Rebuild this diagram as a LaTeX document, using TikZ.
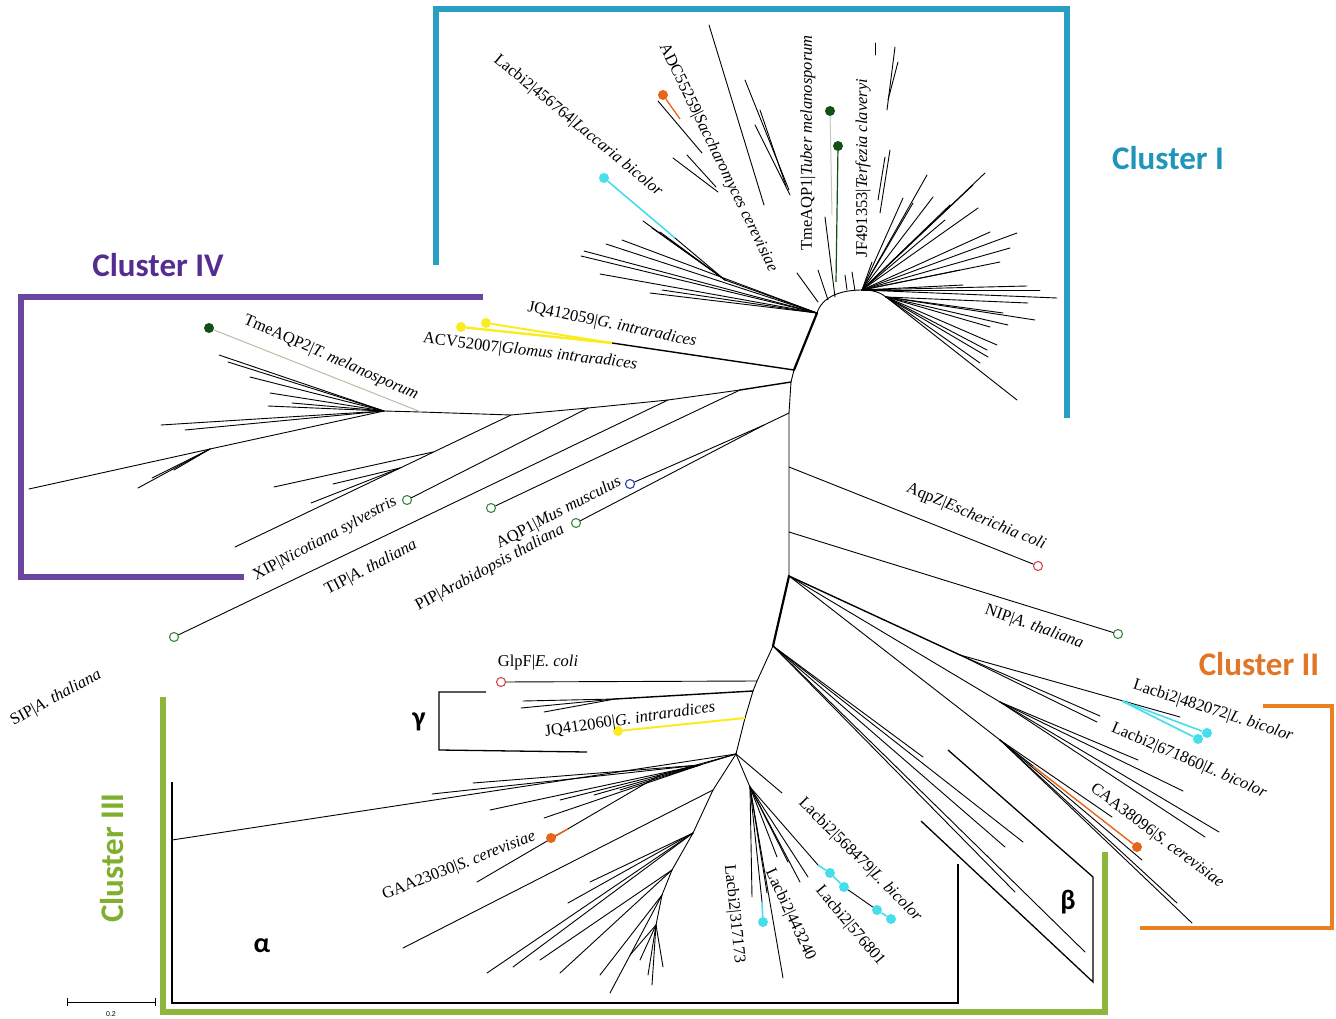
\documentclass[tikz,border=0pt]{standalone}
\usepackage{fontspec}
\setmainfont{Liberation Serif}
\newfontfamily\clfont{Carlito}
\newfontfamily\scfont{Liberation Sans}
\definecolor{tealb}{RGB}{41,160,195}
\definecolor{purpb}{RGB}{106,70,160}
\definecolor{orb}{RGB}{235,128,35}
\definecolor{grb}{RGB}{140,182,60}
\definecolor{tealtx}{RGB}{30,150,185}
\definecolor{purtx}{RGB}{85,45,145}
\definecolor{ortx}{RGB}{225,118,38}
\definecolor{grtx}{RGB}{128,175,48}
\definecolor{cyn}{RGB}{70,222,235}
\definecolor{yel}{RGB}{250,236,30}
\definecolor{dgr}{RGB}{18,80,22}
\definecolor{ordot}{RGB}{232,100,25}
\definecolor{redc}{RGB}{215,70,80}
\definecolor{grc}{RGB}{60,135,60}
\definecolor{bluc}{RGB}{40,60,185}
\definecolor{beige}{RGB}{195,185,165}
\definecolor{faint}{RGB}{190,205,185}
\begin{document}
\begin{tikzpicture}[x=1pt,y=-1pt,
  br/.style={line width=0.9pt, line cap=round},
  thk/.style={line width=2.2pt, line cap=round},
  med/.style={line width=1.4pt, line cap=round},
  bracket/.style={line width=5.5pt},
  lbl/.style={inner sep=0pt, font=\fontsize{16.5}{18}\selectfont},
  clus/.style={inner sep=0pt, font=\clfont\bfseries\fontsize{33}{36}\selectfont},
  greek/.style={inner sep=0pt, font=\clfont\bfseries\fontsize{28}{30}\selectfont},
  ocirc/.style={circle, draw, line width=1.1pt, minimum size=9pt, inner sep=0pt, fill=white},
  fdot/.style={circle, minimum size=10pt, inner sep=0pt},
]
\useasboundingbox[fill=white] (0,0) rectangle (1336,1019);

% ---------------- cluster brackets ----------------
\draw[bracket, tealb] (436,265) -- (436,9) -- (1067,9) -- (1067,418);
\draw[bracket, purpb] (483,297) -- (21,297) -- (21,577) -- (244,577);
\draw[line width=4.5pt, orb] (1263,706) -- (1332,706) -- (1332,928) -- (1140,928);
\draw[bracket, grb] (163,697) -- (163,1012) -- (1105,1012) -- (1105,852);

\node[clus, text=tealtx] (cI) at (1168,158) {Cluster I};
\node[clus, text=purtx] (cIV) at (158,265) {Cluster IV};
\node[clus, text=ortx] (cII) at (1259,664) {Cluster II};
\node[clus, text=grtx, rotate=90] (cIII) at (112,858) {Cluster III};

% ---------------- backbone ----------------
\coordinate (A) at (817,313);
\coordinate (B) at (794,370);
\coordinate (C) at (791,382);
\coordinate (P1) at (789,413);
\coordinate (Pz) at (789,467);
\coordinate (Pn) at (789,532);
\coordinate (D) at (789,576);
\coordinate (E) at (773,646);
\coordinate (F1) at (757,681);
\coordinate (F2) at (753,691);
\coordinate (Fy) at (745,718);
\coordinate (G) at (736,754);
\draw[thk] (A) -- (B);
\draw[br] (B) -- (C) -- (P1) -- (Pz) -- (Pn) -- (D);
\draw[thk] (D) -- (E);
\draw[br] (E) -- (F1) -- (F2) -- (Fy) -- (G);

% ---------------- Cluster I ----------------
\coordinate (R3) at (862,290);
\coordinate (R4) at (886,297);
\draw[br] (A) .. controls (822,297) and (840,290) .. (R3) .. controls (874,290) and (881,293) .. (R4);
\foreach \x/\y in {581/256,584/251,606/244,622/240,600/274,650/293,662/290}
  \draw[br] (A) -- (\x,\y);
\coordinate (LS) at (725,280);
\draw[br] (A) -- (LS);
\foreach \x/\y in {643/221,660/232,652/228}
  \draw[br] (LS) -- (\x,\y);
\coordinate (cy1s) at (675,238);
\draw[br] (LS) -- (cy1s);
\node[fdot, fill=cyn] (cy1) at (604,178) {};
\draw[cyn, line width=1.6pt] (cy1s) -- (cy1);
% Saccharomyces group
\node[fdot, fill=ordot] (sac) at (663,95) {};
\draw[ordot, line width=1.3pt] (sac) -- (680,119);
\draw[br] (658,101) -- (702,153);
\draw[br] (673,158) -- (718,192);
\draw[br] (687,155) -- (716,187);
% long lines upward
\draw[br] (709,25) -- (764,205);
\draw[br] (745,80) -- (789,190);
\draw[br] (755,125) -- (790,195);
\draw[br] (760,110) -- (786,186);
\draw[br] (797,273) -- (818,302);
\draw[br] (818,270) -- (828,300);
\draw[br] (825,217) -- (835,297);
\draw[br] (845,275) -- (847,290);
\draw[br] (852,272) -- (855,291);
% TmeAQP1 / JF491353
\node[fdot, fill=dgr] (tme1) at (830,111) {};
\node[fdot, fill=dgr] (jf) at (838,146) {};
\draw[faint, line width=1pt] (tme1) -- (832,215);
\draw[dgr, line width=1.2pt] (jf) -- (836,282);
\draw[br] (875,43) -- (875,55);
\draw[br] (895,47) -- (887,110);
\draw[br] (898,62) -- (888,100);
\draw[br] (890,150) -- (880,213);
\draw[br] (885,157) -- (878,200);
% right fan
\foreach \x/\y in {985/173,973/185,978/208,1017/233,990/232,1010/248,960/270,963/285,1027/286,1057/298,927/175,933/197,903/198,913/203,872/262,950/205,945/220,1000/262,1040/290}
  \draw[br] (R3) -- (\x,\y);
\foreach \x/\y in {1028/303,1003/313,1008/325,990/327,997/345,987/350,988/357,1017/400,980/363,1035/320}
  \draw[br] (R4) -- (\x,\y);

% ---------------- Glomus (JQ412059 / ACV52007) ----------------
\coordinate (J1) at (612,343);
\draw[med] (B) -- (J1);
\node[fdot, fill=yel] (gl1) at (461,327) {};
\node[fdot, fill=yel] (gl2) at (486,323) {};
\draw[yel, line width=2.4pt] (J1) -- (gl1);
\draw[yel, line width=2pt] (J1) -- (gl2);

% ---------------- Cluster IV ----------------
\coordinate (K1) at (740,390);
\coordinate (K2) at (668,400);
\coordinate (K3) at (588,408);
\coordinate (K4) at (511,415);
\coordinate (K5) at (421,412);
\coordinate (K6) at (384,411);
\draw[med] (C) -- (K1);
\draw[br] (K1) -- (K2) -- (K3) -- (K4) -- (K5) -- (K6);
\node[ocirc, draw=grc] (c1) at (491,508) {};
\draw[br] (K1) -- (c1);
\node[ocirc, draw=grc] (tip) at (174,637) {};
\draw[br] (K2) -- (tip);
\node[ocirc, draw=grc] (xip) at (407,500) {};
\draw[br] (K3) -- (xip);
\coordinate (K7) at (433,452);
\coordinate (K9) at (400,468);
\draw[br] (K4) -- (235,547);
\draw[br] (K7) -- (274,487);
\draw[br] (K9) -- (333,484);
\draw[br] (K9) -- (311,503);
\node[fdot, fill=dgr] (tme2) at (209,328) {};
\draw[beige, line width=1pt] (K5) -- (tme2);
\coordinate (K10) at (210,449);
\draw[br] (K6) -- (K10) -- (29,489);
\foreach \x/\y in {138/488,152/478,174/470}
  \draw[br] (K10) -- (\x,\y);
\foreach \x/\y in {161/425,185/430,268/406,292/403,219/355,228/362,250/377,270/393}
  \draw[br] (K6) -- (\x,\y);
% AQP1 / PIP
\coordinate (P2) at (764,425);
\node[ocirc, draw=bluc] (aqp1) at (630,484) {};
\node[ocirc, draw=grc] (pip) at (576,523) {};
\draw[br] (P1) -- (P2) -- (aqp1);
\draw[br] (P2) -- (pip);

% ---------------- AqpZ / NIP ----------------
\node[ocirc, draw=redc] (aqpz) at (1038,566) {};
\draw[br] (Pz) -- (aqpz);
\node[ocirc, draw=grc] (nip) at (1118,634) {};
\draw[br] (Pn) -- (nip);

% ---------------- Cluster II ----------------
\coordinate (M1) at (960,655);
\coordinate (M2) at (1000,702);
\coordinate (Q1) at (1000,740);
\draw[med] (D) -- (M1);
\draw[br] (M1) -- (1180,717);
\draw[br] (M1) -- (1100,716);
\draw[br] (M1) -- (1097,722);
\coordinate (cy2s) at (1122,701);
\node[fdot, fill=cyn] (lc482) at (1207,733) {};
\node[fdot, fill=cyn] (lc671) at (1198,739) {};
\draw[cyn, line width=1.6pt] (cy2s) -- (lc482);
\draw[cyn, line width=1.6pt] (cy2s) -- (lc671);
\draw[br] (D) -- (M2);
\foreach \x/\y in {1138/760,1183/791,1219/832,1205/837}
  \draw[br] (M2) -- (\x,\y);
\draw[br] (D) -- (Q1);
\foreach \x/\y in {1112/817,1142/860,1192/923,1177/903}
  \draw[br] (Q1) -- (\x,\y);
\coordinate (Q2) at (1033,766);
\draw[br] (Q1) -- (Q2);
\node[fdot, fill=ordot] (caa) at (1137,847) {};
\draw[ordot, line width=1.4pt] (Q2) -- (caa);
\foreach \x/\y in {923/757,1023/842,1005/847,1015/892,1085/952}
  \draw[br] (E) -- (\x,\y);
% beta bracket
\draw[line width=1.3pt] (948,750) -- (1093,877) -- (1093,982) -- (921,821);
\node[greek] (beta) at (1068,902) {β};

% ---------------- gamma group ----------------
\node[ocirc, draw=redc] (glpf) at (501,682) {};
\draw[br] (F1) -- (glpf);
\coordinate (F3) at (615,699);
\draw[med] (F2) -- (F3);
\foreach \x/\y in {523/701,521/708,544/712}
  \draw[br] (F3) -- (\x,\y);
\node[fdot, fill=yel] (jq60) at (618,731) {};
\draw[yel, line width=2pt] (Fy) -- (jq60);
\draw[line width=1.3pt] (486,692) -- (439,692) -- (439,750) -- (587,752);
\node[greek] (gamma) at (419,722) {γ};

% ---------------- Cluster III alpha ----------------
\coordinate (al) at (172,840);
\draw[br] (G) -- (al);
\draw[line width=1.6pt] (172,782) -- (172,1003) -- (958,1003) -- (958,864);
\node[greek] (alpha) at (262,946) {α};
\coordinate (G2) at (700,765);
\draw[br] (G) -- (G2);
\foreach \x/\y in {432/794,473/783,490/810,544/818,594/795,620/790,560/800}
  \draw[br] (G2) -- (\x,\y);
\coordinate (Ga) at (660,775);
\draw[br] (G) -- (Ga) -- (477,882);
\node[fdot, fill=ordot] (gaa) at (551,838) {};
\draw[ordot, line width=1.4pt] (gaa) -- (568,829);
\coordinate (H1) at (713,790);
\coordinate (H2) at (693,833);
\coordinate (H3) at (672,870);
\coordinate (H4) at (662,895);
\coordinate (H5) at (656,925);
\draw[br] (G) -- (H1) -- (H2) -- (H3) -- (H4) -- (H5) -- (652,985);
\draw[br] (H1) -- (403,948);
\foreach \x/\y in {568/903,590/882,487/973,513/967}
  \draw[br] (H2) -- (\x,\y);
\foreach \x/\y in {560/973,540/960}
  \draw[br] (H3) -- (\x,\y);
\foreach \x/\y in {610/993,600/975}
  \draw[br] (H4) -- (\x,\y);
\foreach \x/\y in {663/967,640/960,630/955,648/975}
  \draw[br] (H5) -- (\x,\y);
% right subgroup of cluster III
\coordinate (N1) at (750,787);
\draw[br] (G) -- (N1);
\draw[br] (G) -- (782,793);
\foreach \x/\y in {752/897,767/893,777/857,788/862,800/882,808/877,783/978}
  \draw[br] (N1) -- (\x,\y);
\coordinate (c317s) at (762,902);
\node[fdot, fill=cyn] (l317) at (763,922) {};
\draw[br] (N1) -- (c317s);
\draw[cyn, line width=1.6pt] (c317s) -- (l317);
\coordinate (c568s) at (818,865);
\node[fdot, fill=cyn] (l568a) at (830,873) {};
\node[fdot, fill=cyn] (l568b) at (844,887) {};
\node[fdot, fill=cyn] (l576a) at (877,910) {};
\node[fdot, fill=cyn] (l576b) at (891,919) {};
\draw[br] (N1) -- (c568s);
\draw[cyn, line width=1.6pt] (c568s) -- (l568a) -- (l568b);
\draw[br] (l568b) -- (l576a);
\draw[cyn, line width=1.6pt] (l576a) -- (l576b);

% ---------------- labels ----------------
\node[lbl, rotate=-39.5] (t1) at (578,126) {Lacbi2|456764|\textit{Laccaria bicolor}};
\node[lbl, rotate=-64] (t2) at (718,158) {ADC55259|\textit{Saccharomyces cerevisiae}};
\node[lbl, rotate=90] (t3) at (808,143) {TmeAQP1|\textit{Tuber melanosporum}};
\node[lbl, rotate=90] (t4) at (863,168) {JF491353|\textit{Terfezia claveryi}};
\node[lbl, rotate=-23.8] (t5) at (331,358) {TmeAQP2|\textit{T. melanosporum}};
\node[lbl, rotate=-11.7] (t6) at (612,325) {JQ412059|\textit{G. intraradices}};
\node[lbl, rotate=-7] (t7) at (530,352) {ACV52007|\textit{Glomus intraradices}};
\node[lbl, rotate=28.2] (t8) at (325,539) {XIP|\textit{Nicotiana sylvestris}};
\node[lbl, rotate=27.5] (t9) at (371,568) {TIP|\textit{A. thaliana}};
\node[lbl, rotate=27.6] (t10) at (559,513) {AQP1|\textit{Mus musculus}};
\node[lbl, rotate=28.2] (t11) at (490,568) {PIP|\textit{Arabidopsis thaliana}};
\node[lbl, rotate=28.5] (t12) at (56,698) {SIP|\textit{A. thaliana}};
\node[lbl, rotate=-22.7] (t13) at (976,517) {AqpZ|\textit{Escherichia coli}};
\node[lbl, rotate=-19.5] (t14) at (1034,627) {NIP|\textit{A. thaliana}};
\node[lbl] (t15) at (538,663) {GlpF|\textit{E. coli}};
\node[lbl, rotate=8.4] (t16) at (630,720) {JQ412060|\textit{G. intraradices}};
\node[lbl, rotate=-18] (t17) at (1213,711) {Lacbi2|482072|\textit{L. bicolor}};
\node[lbl, rotate=-23.3] (t18) at (1189,761) {Lacbi2|671860|\textit{L. bicolor}};
\node[lbl, rotate=-37] (t19) at (1157,836) {CAA38096|\textit{S. cerevisiae}};
\node[lbl, rotate=21.4] (t20) at (459,866) {GAA23030|\textit{S. cerevisiae}};
\node[lbl, rotate=-45] (t21) at (860,860) {Lacbi2|568479|\textit{L. bicolor}};
\node[lbl, rotate=-50] (t22) at (850,926) {Lacbi2|576801};
\node[lbl, rotate=-65] (t23) at (790,915) {Lacbi2|443240};
\node[lbl, rotate=-84] (t24) at (734,914) {Lacbi2|317173};

% ---------------- scale bar ----------------
\coordinate (sb1) at (67,1002);
\coordinate (sb2) at (155,1002);
\draw[line width=0.9pt] (sb1) -- (sb2);
\draw[line width=0.9pt] (67,998) -- (67,1006);
\draw[line width=0.9pt] (155,998) -- (155,1006);
\node[inner sep=0pt, font=\scfont\fontsize{7}{8}\selectfont] (sbl) at (111,1014) {0.2};
\end{tikzpicture}
\end{document}
